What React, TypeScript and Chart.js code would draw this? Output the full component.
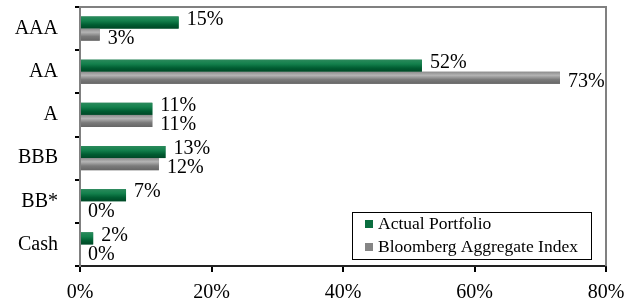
import React, { useEffect, useRef } from "react";
import { Chart, registerables } from "chart.js";

Chart.register(...registerables);

const categories = ["AAA", "AA", "A", "BBB", "BB*", "Cash"];
const seriesNames = ["Actual Portfolio", "Bloomberg Aggregate Index"];
const actualPortfolio = [15, 52, 11, 13, 7, 2];
const bloombergIndex = [3, 73, 11, 12, 0, 0];
const xTickValues = [0, 20, 40, 60, 80];

const FONT = "'Liberation Serif', 'Times New Roman', serif";
const GREEN = "#0a6e3f";
const GRAY = "#858585";

const gradientStops: Record<string, [number, string][]> = {
  [GREEN]: [
    [0, "#2b8a5c"],
    [0.35, "#13804c"],
    [0.7, "#005c31"],
    [1, "#004726"],
  ],
  [GRAY]: [
    [0, "#8c8c8c"],
    [0.3, "#b4b4b4"],
    [0.65, "#7a7a7a"],
    [1, "#666666"],
  ],
};

const barShading = {
  id: "barShading",
  afterDatasetsDraw(chart: any) {
    const ctx = chart.ctx;
    chart.data.datasets.forEach((ds: any, di: number) => {
      const meta = chart.getDatasetMeta(di);
      const stops = gradientStops[ds.backgroundColor];
      meta.data.forEach((el: any) => {
        const left = Math.min(el.base, el.x);
        const w = Math.abs(el.x - el.base);
        if (w < 0.5) return;
        const top = el.y - el.height / 2;
        const g = ctx.createLinearGradient(0, top, 0, top + el.height);
        stops.forEach(([o, c]) => g.addColorStop(o, c));
        ctx.save();
        ctx.fillStyle = g;
        ctx.fillRect(left, top, w, el.height);
        ctx.restore();
      });
    });
  },
};

const valueLabels = {
  id: "valueLabels",
  afterDatasetsDraw(chart: any) {
    const ctx = chart.ctx;
    ctx.save();
    ctx.font = `20px ${FONT}`;
    ctx.fillStyle = "#000";
    ctx.textBaseline = "middle";
    ctx.textAlign = "left";
    chart.data.datasets.forEach((ds: any, di: number) => {
      const meta = chart.getDatasetMeta(di);
      const dy = di === 0 ? -3 : 4;
      meta.data.forEach((el: any, i: number) => {
        const v = ds.data[i];
        ctx.fillText(`${v}%`, el.x + 8, el.y + dy);
      });
    });
    ctx.restore();
  },
};

const frame = {
  id: "frame",
  afterDraw(chart: any) {
    const { ctx, chartArea } = chart;
    ctx.save();
    ctx.strokeStyle = "#808080";
    ctx.lineWidth = 2;
    ctx.beginPath();
    ctx.moveTo(chartArea.left, chartArea.top);
    ctx.lineTo(chartArea.right, chartArea.top);
    ctx.lineTo(chartArea.right, chartArea.bottom);
    ctx.stroke();
    ctx.restore();
  },
};

const insideLegend = {
  id: "insideLegend",
  afterDraw(chart: any) {
    const { ctx, chartArea } = chart;
    const w = 239;
    const h = 47;
    const x = chartArea.right - 15 - w;
    const y = chartArea.bottom - 7 - h;
    ctx.save();
    ctx.fillStyle = "#fff";
    ctx.fillRect(x, y, w, h);
    ctx.strokeStyle = "#000";
    ctx.lineWidth = 1;
    ctx.strokeRect(x + 0.5, y + 0.5, w, h);
    ctx.font = `17.5px ${FONT}`;
    ctx.textBaseline = "middle";
    ctx.textAlign = "left";
    chart.data.datasets.forEach((ds: any, i: number) => {
      const cy = y + 12 + i * 23;
      ctx.fillStyle = ds.backgroundColor;
      ctx.fillRect(x + 13, cy - 4, 8, 8);
      ctx.fillStyle = "#000";
      ctx.fillText(ds.label, x + 26, cy);
    });
    ctx.restore();
  },
};

export default function App() {
  const canvasRef = useRef<HTMLCanvasElement | null>(null);

  useEffect(() => {
    document.body.style.margin = "0";
    const canvas = canvasRef.current;
    if (!canvas) return;
    const chart = new Chart(canvas, {
      type: "bar",
      data: {
        labels: categories,
        datasets: [
          {
            label: seriesNames[0],
            data: actualPortfolio,
            backgroundColor: GREEN,
            categoryPercentage: 0.56,
            barPercentage: 1,
          },
          {
            label: seriesNames[1],
            data: bloombergIndex,
            backgroundColor: GRAY,
            categoryPercentage: 0.56,
            barPercentage: 1,
          },
        ],
      },
      options: {
        indexAxis: "y",
        animation: false,
        responsive: false,
        maintainAspectRatio: false,
        layout: { padding: { top: 7, right: 33, left: 0, bottom: 0 } },
        plugins: {
          legend: { display: false },
          tooltip: { enabled: false },
        },
        scales: {
          x: {
            min: 0,
            max: 80,
            afterFit: (s: any) => {
              s.height = 39;
              s.paddingLeft = 0;
              s.paddingRight = 0;
            },
            afterBuildTicks: (s: any) => {
              s.ticks = xTickValues.map((v) => ({ value: v }));
            },
            ticks: {
              callback: (v: any) => `${v}%`,
              font: { family: FONT, size: 20 },
              color: "#000",
              padding: 9,
            },
            grid: {
              drawOnChartArea: false,
              drawTicks: true,
              tickLength: 6,
              color: "#000",
              lineWidth: 2,
            },
            border: { color: "#222", width: 2 },
          },
          y: {
            afterFit: (s: any) => {
              s.width = 80;
              s.paddingTop = 0;
              s.paddingBottom = 0;
            },
            ticks: {
              font: { family: FONT, size: 20 },
              color: "#000",
              padding: 17,
            },
            grid: {
              offset: true,
              drawOnChartArea: false,
              drawTicks: true,
              tickLength: 5,
              color: "#000",
              lineWidth: 2,
            },
            border: { color: "#808080", width: 2 },
          },
        },
      },
      plugins: [barShading, valueLabels, frame, insideLegend],
    });
    return () => chart.destroy();
  }, []);

  return (
    <div style={{ width: 639, height: 305 }}>
      <canvas ref={canvasRef} width={639} height={305} style={{ display: "block" }} />
    </div>
  );
}
